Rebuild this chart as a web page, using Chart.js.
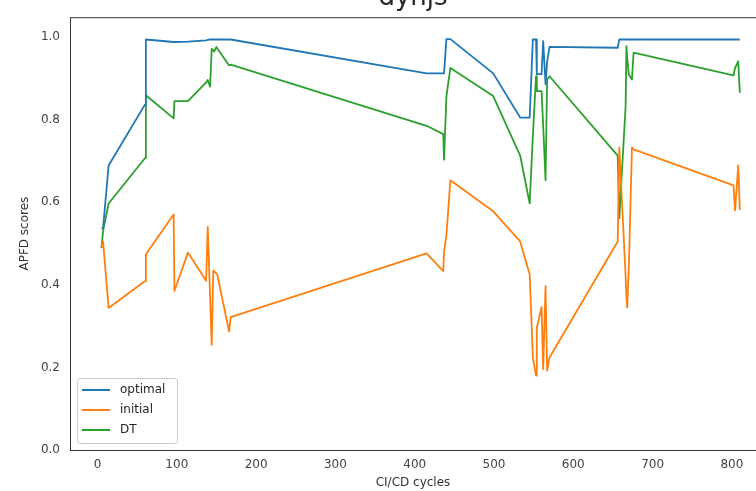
<!DOCTYPE html>
<html>
<head>
<meta charset="utf-8">
<script src="https://cdn.jsdelivr.net/npm/chart.js@4/dist/chart.umd.min.js"></script>
<style>
  html, body { margin: 0; padding: 0; background: #ffffff; }
  #wrap { width: 756px; height: 491px; position: relative; }
</style>
</head>
<body>
<div id="wrap"><canvas id="apfdChart"></canvas></div>
<script>
// APFD per CI/CD cycle for the dynjs project
const cycles = [
  5, 7, 14, 60, 61, 96, 97, 114, 137, 139, 142, 144, 146, 147, 150, 151, 166, 168,
  415, 436, 437, 440, 445, 499,
  533, 545, 549, 553, 554, 560, 562, 565, 567, 570,
  656, 658, 666, 667, 668, 670, 674, 676,
  802, 804, 808, 810
];
const optimal = [
  0.537, 0.537, 0.689, 0.837, 0.994, 0.988, 0.988, 0.989, 0.992, 0.993, 0.994, 0.994, 0.994, 0.994, 0.994, 0.994, 0.994, 0.994,
  0.912, 0.912, 0.912, 0.995, 0.995, 0.912,
  0.805, 0.805, 0.994, 0.994, 0.910, 0.910, 0.990, 0.886, 0.940, 0.976,
  0.974, 0.994, 0.994, 0.994, 0.994, 0.994, 0.994, 0.994,
  0.994, 0.994, 0.994, 0.994
];
const initial = [
  0.490, 0.505, 0.344, 0.409, 0.474, 0.570, 0.385, 0.478, 0.410, 0.540, 0.370, 0.255, 0.435, 0.433, 0.427, 0.425, 0.287, 0.322,
  0.476, 0.433, 0.480, 0.520, 0.653, 0.578,
  0.505, 0.425, 0.224, 0.180, 0.296, 0.346, 0.196, 0.397, 0.192, 0.224,
  0.505, 0.733, 0.420, 0.370, 0.345, 0.440, 0.733, 0.728,
  0.641, 0.580, 0.689, 0.581
];
const dt = [
  0.489, 0.530, 0.597, 0.707, 0.859, 0.803, 0.845, 0.845, 0.890, 0.896, 0.880, 0.971, 0.968, 0.965, 0.976, 0.972, 0.931, 0.933,
  0.785, 0.765, 0.703, 0.857, 0.925, 0.857,
  0.713, 0.597, 0.760, 0.905, 0.869, 0.869, 0.785, 0.653, 0.897, 0.905,
  0.713, 0.561, 0.833, 0.978, 0.950, 0.909, 0.897, 0.962,
  0.907, 0.925, 0.941, 0.865
];
const seriesNames = ["optimal", "initial", "DT"];
const seriesColors = ["#1f77b4", "#ff7f0e", "#2ca02c"];
const xTicks = [0, 100, 200, 300, 400, 500, 600, 700, 800];
const yTicks = [0.0, 0.2, 0.4, 0.6, 0.8, 1.0];

const FONT = "'DejaVu Sans', 'Liberation Sans', sans-serif";
const toPoints = ys => cycles.map((c, i) => ({ x: c, y: ys[i] }));

// axes frame, clipped title and boxed legend in the lower left corner
const decorations = {
  id: "decorations",
  afterDraw(chart) {
    const { ctx, chartArea: a } = chart;
    ctx.save();
    ctx.strokeStyle = "#333333";
    ctx.lineWidth = 1;
    ctx.strokeRect(a.left + 0.5, a.top + 0.5, a.right - a.left, a.bottom - a.top);

    ctx.fillStyle = "#262626";
    ctx.font = "26px " + FONT;
    ctx.textAlign = "center";
    ctx.textBaseline = "alphabetic";
    ctx.fillText("dynjs", (a.left + a.right) / 2, 5);

    const bx = a.left + 7, by = a.bottom - 72, bw = 100, bh = 65;
    ctx.fillStyle = "rgba(255,255,255,0.85)";
    ctx.strokeStyle = "#cccccc";
    ctx.beginPath();
    ctx.roundRect(bx + 0.5, by + 0.5, bw, bh, 3);
    ctx.fill();
    ctx.stroke();
    ctx.font = "12px " + FONT;
    ctx.textAlign = "left";
    ctx.textBaseline = "middle";
    chart.data.datasets.forEach((ds, i) => {
      const ry = by + 12 + i * 20;
      ctx.strokeStyle = ds.borderColor;
      ctx.lineWidth = 2;
      ctx.beginPath();
      ctx.moveTo(bx + 5, ry);
      ctx.lineTo(bx + 33, ry);
      ctx.stroke();
      ctx.fillStyle = "#262626";
      ctx.fillText(ds.label, bx + 43, ry);
    });
    ctx.restore();
  }
};

new Chart(document.getElementById("apfdChart"), {
  type: "line",
  data: {
    datasets: [optimal, initial, dt].map((ys, i) => ({
      label: seriesNames[i],
      data: toPoints(ys),
      borderColor: seriesColors[i],
      backgroundColor: seriesColors[i],
      borderWidth: 1.8,
      borderJoinStyle: "round",
      pointRadius: 0,
      tension: 0,
      fill: false
    }))
  },
  options: {
    responsive: true,
    maintainAspectRatio: false,
    animation: false,
    layout: { padding: { top: 14, right: 0, left: 0, bottom: 0 } },
    plugins: {
      legend: { display: false },
      title: { display: false },
      tooltip: { enabled: false }
    },
    scales: {
      x: {
        type: "linear",
        min: -34.7,
        max: 830.4,
        afterBuildTicks: s => { s.ticks = xTicks.map(v => ({ value: v })); },
        afterFit: s => { s.height = 41; },
        grid: { display: false, drawTicks: false },
        border: { display: false },
        ticks: { padding: 8, color: "#444444", font: { family: FONT, size: 12 } },
        title: {
          display: true,
          text: "CI/CD cycles",
          color: "#333333",
          font: { family: FONT, size: 12 },
          padding: { top: 0, bottom: 1 }
        }
      },
      y: {
        min: 0,
        max: 1.048,
        afterBuildTicks: s => { s.ticks = yTicks.map(v => ({ value: v })); },
        afterFit: s => { s.width = 70; },
        grid: { display: false, drawTicks: false },
        border: { display: false },
        ticks: {
          padding: 10,
          color: "#444444",
          font: { family: FONT, size: 12 },
          callback: v => v.toFixed(1)
        },
        title: {
          display: true,
          text: "APFD scores",
          color: "#333333",
          font: { family: FONT, size: 12 },
          padding: { top: 18, bottom: 0 }
        }
      }
    }
  },
  plugins: [decorations]
});
</script>
</body>
</html>
